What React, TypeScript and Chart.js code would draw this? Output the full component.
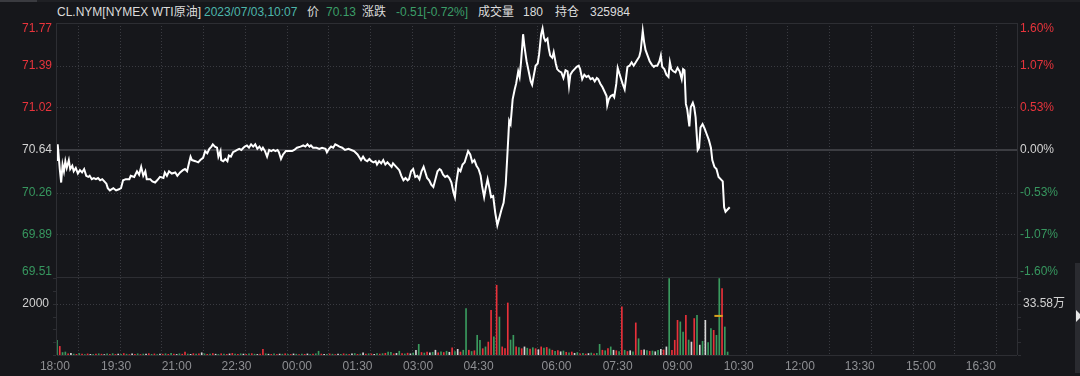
import React, { useEffect, useRef } from 'react';
import { Chart, registerables } from 'chart.js';

Chart.register(...registerables);

// ---------- data ----------
const PREV_CLOSE = 70.64;
const PRICE_TICKS = [71.77, 71.39, 71.02, 70.64, 70.26, 69.89, 69.51];
const PCT_TICKS = ['1.60%', '1.07%', '0.53%', '0.00%', '-0.53%', '-1.07%', '-1.60%'];
const VOL_TICK = 2000;
const VOL_TICK_LABEL = '2000';
const VOL_TOTAL_LABEL = '33.58万';
const VOL_MINOR_TICKS = [0, 500, 1000, 1500, 2000, 2500, 3000];

const TIME_LABELS = ['18:00', '19:30', '21:00', '22:30', '00:00', '01:30', '03:00', '04:30', '06:00', '07:30', '09:00', '10:30', '12:00', '13:30', '15:00', '16:30'];
const TIME_LABEL_MINUTES = [-3, 85, 172, 258, 345, 432, 519, 606, 718, 806, 892, 980, 1068, 1154, 1242, 1328];
const GRID_MINUTES = [30, 90, 150, 210, 270, 330, 390, 450, 510, 570, 630, 690, 750, 810, 870, 930, 990, 1050, 1110, 1170, 1230, 1290, 1350];
const SESSION_MINUTES = 1380;

const HEADER = [
  { text: 'CL.NYM[NYMEX WTI原油]', color: '#dcdcdc', left: 57 },
  { text: '2023/07/03,10:07', color: '#4cb6ab', left: 204 },
  { text: '价', color: '#dcdcdc', left: 307 },
  { text: '70.13', color: '#3b9e68', left: 326 },
  { text: '涨跌', color: '#dcdcdc', left: 362 },
  { text: '-0.51[-0.72%]', color: '#3b9e68', left: 396 },
  { text: '成交量', color: '#dcdcdc', left: 478 },
  { text: '180', color: '#dcdcdc', left: 523 },
  { text: '持仓', color: '#dcdcdc', left: 555 },
  { text: '325984', color: '#dcdcdc', left: 590 },
];

// [minutes since 18:00, price]
const PRICE_POINTS: [number, number][] = [
  [0, 70.55], [1, 70.69], [4, 70.47], [6, 70.35], [8, 70.51], [10, 70.45], [12, 70.54], [14, 70.48], [17, 70.55], [19, 70.47],
  [22, 70.50], [24, 70.45], [27, 70.48], [30, 70.43], [33, 70.46], [36, 70.44], [39, 70.47], [42, 70.41], [45, 70.40], [47, 70.41],
  [50, 70.38], [53, 70.39], [56, 70.38], [59, 70.39], [62, 70.37], [65, 70.38], [68, 70.36], [71, 70.34], [73, 70.30], [76, 70.28],
  [81, 70.30], [85, 70.28], [89, 70.29], [92, 70.30], [95, 70.37], [99, 70.38], [104, 70.38], [106, 70.41], [111, 70.40], [115, 70.45],
  [118, 70.42], [121, 70.49], [124, 70.41], [127, 70.45], [129, 70.38], [134, 70.38], [137, 70.36], [141, 70.35], [144, 70.37], [148, 70.40],
  [153, 70.39], [155, 70.44], [158, 70.41], [161, 70.45], [165, 70.43], [170, 70.44], [173, 70.41], [177, 70.44], [181, 70.46], [184, 70.47],
  [187, 70.45], [190, 70.53], [192, 70.58], [194, 70.55], [199, 70.54], [203, 70.53], [206, 70.55], [210, 70.57], [213, 70.63], [216, 70.61],
  [219, 70.65], [222, 70.67], [224, 70.69], [227, 70.67], [230, 70.66], [232, 70.58], [235, 70.63], [236, 70.55], [239, 70.54], [242, 70.56],
  [245, 70.54], [247, 70.59], [250, 70.58], [253, 70.62], [256, 70.63], [259, 70.64], [262, 70.65], [265, 70.64], [268, 70.66], [270, 70.67],
  [273, 70.68], [276, 70.66], [279, 70.69], [282, 70.67], [285, 70.69], [288, 70.65], [291, 70.67], [294, 70.64], [296, 70.66], [299, 70.63],
  [302, 70.58], [305, 70.64], [308, 70.63], [311, 70.64], [314, 70.63], [317, 70.64], [319, 70.62], [322, 70.56], [325, 70.60], [329, 70.63],
  [334, 70.63], [338, 70.63], [341, 70.64], [345, 70.66], [350, 70.67], [354, 70.68], [357, 70.67], [360, 70.69], [363, 70.67], [365, 70.68],
  [368, 70.66], [373, 70.66], [377, 70.65], [381, 70.66], [386, 70.65], [388, 70.62], [391, 70.65], [394, 70.67], [397, 70.66], [400, 70.69],
  [403, 70.68], [406, 70.67], [410, 70.66], [414, 70.64], [419, 70.65], [423, 70.64], [427, 70.63], [432, 70.60], [435, 70.57], [437, 70.55],
  [440, 70.58], [443, 70.55], [446, 70.54], [449, 70.56], [452, 70.54], [455, 70.53], [458, 70.54], [460, 70.51], [463, 70.54], [466, 70.52],
  [469, 70.55], [472, 70.51], [475, 70.53], [478, 70.51], [481, 70.49], [483, 70.52], [486, 70.50], [489, 70.48], [492, 70.46], [495, 70.41],
  [498, 70.37], [501, 70.39], [504, 70.37], [506, 70.38], [509, 70.45], [512, 70.47], [515, 70.40], [518, 70.41], [521, 70.38], [524, 70.45],
  [527, 70.49], [529, 70.45], [532, 70.39], [535, 70.37], [538, 70.33], [541, 70.31], [544, 70.38], [547, 70.45], [550, 70.47], [552, 70.46],
  [555, 70.42], [558, 70.40], [561, 70.41], [564, 70.39], [567, 70.35], [570, 70.26], [572, 70.22], [574, 70.35], [577, 70.47], [580, 70.45],
  [583, 70.51], [586, 70.53], [588, 70.57], [591, 70.63], [594, 70.60], [597, 70.53], [600, 70.55], [603, 70.50], [606, 70.47], [609, 70.41],
  [611, 70.32], [614, 70.22], [616, 70.29], [619, 70.38], [622, 70.29], [624, 70.22], [627, 70.23], [630, 70.08], [633, 69.97], [636, 70.04],
  [639, 70.11], [642, 70.17], [645, 70.33], [647, 70.55], [649, 70.78], [650, 70.90], [652, 70.87], [655, 71.09], [658, 71.18], [660, 71.23],
  [663, 71.34], [665, 71.29], [667, 71.42], [669, 71.58], [670, 71.67], [672, 71.56], [675, 71.43], [678, 71.34], [681, 71.25], [683, 71.22],
  [685, 71.29], [688, 71.39], [691, 71.41], [693, 71.49], [696, 71.67], [698, 71.72], [700, 71.64], [702, 71.61], [705, 71.63], [707, 71.54],
  [709, 71.48], [712, 71.46], [714, 71.51], [717, 71.41], [719, 71.36], [722, 71.34], [725, 71.33], [728, 71.28], [731, 71.35], [734, 71.34],
  [736, 71.21], [738, 71.31], [741, 71.34], [744, 71.36], [747, 71.38], [750, 71.39], [752, 71.36], [755, 71.27], [758, 71.31], [761, 71.29],
  [764, 71.30], [767, 71.27], [770, 71.28], [773, 71.25], [776, 71.28], [778, 71.27], [781, 71.23], [784, 71.20], [787, 71.16], [790, 71.12],
  [791, 71.04], [793, 71.09], [796, 71.12], [799, 71.13], [801, 71.11], [804, 71.23], [806, 71.37], [809, 71.31], [811, 71.27], [813, 71.23],
  [816, 71.18], [818, 71.28], [820, 71.38], [823, 71.39], [826, 71.42], [829, 71.39], [832, 71.42], [834, 71.44], [837, 71.47], [839, 71.52],
  [842, 71.70], [844, 71.60], [846, 71.53], [849, 71.48], [852, 71.43], [855, 71.40], [858, 71.38], [860, 71.39], [863, 71.39], [866, 71.43],
  [868, 71.48], [870, 71.38], [873, 71.36], [876, 71.31], [879, 71.29], [881, 71.42], [883, 71.36], [886, 71.34], [889, 71.33], [892, 71.37],
  [895, 71.34], [898, 71.27], [900, 71.36], [902, 71.35], [904, 71.05], [906, 71.00], [909, 70.85], [911, 71.02], [914, 71.06], [916, 71.02],
  [918, 70.93], [921, 70.64], [923, 70.66], [925, 70.84], [928, 70.87], [931, 70.83], [934, 70.78], [937, 70.73], [940, 70.66], [942, 70.55],
  [945, 70.49], [948, 70.47], [951, 70.40], [954, 70.38], [957, 70.36], [959, 70.13], [961, 70.09], [967, 70.13],
];

// volume per 4-minute bin starting at 18:00
const VOL_BIN_MINUTES = 4;
const VOLUMES = [
  590, 350, 110, 130, 60, 80, 50, 40, 70, 45,
  30, 55, 40, 35, 50, 60, 45, 30, 55, 40,
  65, 35, 50, 40, 70, 45, 30, 55, 40, 60,
  35, 50, 45, 65, 40, 55, 30, 50, 45, 60,
  40, 75, 50, 35, 60, 45, 130, 50, 40, 65,
  45, 55, 100, 60, 40, 50, 70, 45, 35, 60,
  50, 40, 55, 75, 45, 35, 60, 50, 40, 55,
  65, 45, 35, 50, 235, 60, 45, 40, 55, 35,
  50, 45, 60, 40, 35, 55, 45, 30, 50, 40,
  55, 35, 45, 60, 160, 50, 40, 35, 55, 45,
  30, 50, 40, 60, 45, 35, 55, 70, 40, 50,
  100, 45, 60, 55, 40, 70, 50, 65, 80, 130,
  120, 60, 75, 160, 70, 55, 85, 60, 90, 200,
  430, 110, 90, 130, 100, 120, 200, 100, 140, 110,
  160, 120, 290, 150, 235, 130, 200, 1830, 200, 150,
  180, 785, 590, 260, 330, 520, 1765, 720, 2745, 1500,
  330, 260, 2050, 600, 785, 330, 300, 260, 330, 280,
  240, 300, 260, 220, 330, 280, 310, 250, 200, 160,
  190, 140, 170, 120, 100, 130, 80, 110, 60, 80,
  50, 70, 90, 60, 80, 430, 200, 180, 260, 330,
  200, 180, 150, 1895, 200, 150, 180, 140, 1270, 650,
  200, 220, 190, 160, 170, 140, 200, 235, 210, 330,
  3006, 200, 590, 1370, 1310, 915, 1570, 600, 520, 1440,
  1570, 400, 550, 1370, 500, 1045, 980, 785, 3006, 2614,
  1110, 130,
];
// r = up (red), g = down (green), w = flat (white)
const VOL_DIRECTIONS = (
  'grggrwgrgr' + 'grwgrgrwgr' + 'grwgrgrwrg' + 'rgwrgrgwrg' + 'rgrwgrrgwr' +
  'grwgrgrwgr' + 'grwrgrgwrg' + 'rgwrrgwrgr' + 'wgrgrwgrgr' + 'wgrggrwgrg' +
  'rwgrgrwgrg' + 'wrgrwgrgrg' + 'grwgrgrwgw' + 'grgrwgwrgr' + 'gwrgwrggrg' +
  'rggrgrrgrg' + 'rrrggrgrwg' + 'rgrwrgrgrg' + 'rwgrgrwgrg' + 'rwgrggrgrg' +
  'wrgrgrwgrg' + 'rwgrgwgwrw' + 'grrrggrgwr' + 'gwgwggrggr' + 'gg'
).split('');

// short average-volume marker
const VOL_MARKER_MINUTES = [945, 957];
const VOL_MARKER_VALUE = 1530;

// ---------- styles ----------
const BG = '#16171b';
const RED = '#e8343c';
const GREEN = '#37975f';
const WHITE_TXT = '#d2d2d2';
const AXIS_TXT = '#8e8f93';
const GRID = '#3a3b41';
const FRAME = '#2d2e33';
const FONT = '"Liberation Sans", Arial, "Noto Sans CJK SC", sans-serif';
const DIR_COLORS: Record<string, string> = { r: '#e8313a', g: '#3a9a5e', w: '#d6d6d6' };

const framePlugin = {
  id: 'frame',
  beforeDatasetsDraw(chart: any) {
    const { ctx, chartArea: a, scales } = chart;
    const yP = scales.yP;
    const yV = scales.yV;
    const x = scales.x;
    ctx.save();
    const hline = (y: number, color: string, width: number, dash: number[]) => {
      ctx.beginPath();
      ctx.strokeStyle = color;
      ctx.lineWidth = width;
      ctx.setLineDash(dash);
      ctx.moveTo(a.left, y);
      ctx.lineTo(a.right, y);
      ctx.stroke();
    };
    // vertical dotted grid at the half hours
    ctx.beginPath();
    ctx.strokeStyle = GRID;
    ctx.lineWidth = 1;
    ctx.setLineDash([1, 2]);
    GRID_MINUTES.forEach((m) => {
      const px = Math.round(x.getPixelForValue(m)) + 0.5;
      ctx.moveTo(px, a.top);
      ctx.lineTo(px, a.bottom);
    });
    ctx.stroke();
    PRICE_TICKS.forEach((v, i) => {
      const y = Math.round(yP.getPixelForValue(v)) + 0.5;
      if (i === 0 || i === PRICE_TICKS.length - 1) hline(y, FRAME, 1, []);
      else if (v === PREV_CLOSE) hline(y - 0.5, '#3c3d42', 2, []);
      else hline(y, GRID, 1, [1, 2]);
    });
    hline(Math.round(yV.getPixelForValue(VOL_TICK)) + 0.5, GRID, 1, [1, 2]);
    hline(Math.round(yV.getPixelForValue(0)) + 0.5, FRAME, 1, []);
    // side borders
    ctx.setLineDash([]);
    ctx.strokeStyle = FRAME;
    ctx.lineWidth = 1;
    ctx.beginPath();
    ctx.moveTo(a.left - 0.5, a.top);
    ctx.lineTo(a.left - 0.5, a.bottom);
    ctx.moveTo(a.right + 0.5, a.top);
    ctx.lineTo(a.right + 0.5, a.bottom);
    ctx.stroke();
    // volume minor ticks on both edges
    ctx.beginPath();
    VOL_MINOR_TICKS.forEach((v) => {
      const y = Math.round(yV.getPixelForValue(v)) + 0.5;
      ctx.moveTo(a.left - 4, y);
      ctx.lineTo(a.left - 1, y);
      ctx.moveTo(a.right + 1, y);
      ctx.lineTo(a.right + 4, y);
    });
    ctx.stroke();
    ctx.restore();
  },
  afterDraw(chart: any) {
    const { ctx, chartArea: a, scales } = chart;
    const yP = scales.yP;
    const yV = scales.yV;
    const x = scales.x;
    ctx.save();
    ctx.font = `12px ${FONT}`;
    ctx.textBaseline = 'middle';
    PRICE_TICKS.forEach((v, i) => {
      let y = yP.getPixelForValue(v);
      y = Math.max(a.top + 6, Math.min(y, yP.getPixelForValue(PRICE_TICKS[PRICE_TICKS.length - 1]) - 5));
      const c = v > PREV_CLOSE ? RED : v < PREV_CLOSE ? GREEN : WHITE_TXT;
      ctx.fillStyle = c;
      ctx.textAlign = 'right';
      ctx.fillText(v.toFixed(2), a.left - 5, y);
      ctx.textAlign = 'left';
      ctx.fillText(PCT_TICKS[i], a.right + 3, y);
    });
    const yv = yV.getPixelForValue(VOL_TICK);
    ctx.fillStyle = WHITE_TXT;
    ctx.textAlign = 'right';
    ctx.fillText(VOL_TICK_LABEL, a.left - 8, yv);
    ctx.textAlign = 'left';
    ctx.fillText(VOL_TOTAL_LABEL, a.right + 6, yv);
    ctx.fillStyle = AXIS_TXT;
    ctx.textAlign = 'center';
    TIME_LABELS.forEach((t, i) => {
      ctx.fillText(t, x.getPixelForValue(TIME_LABEL_MINUTES[i]), a.bottom + 12);
    });
    ctx.restore();
  },
};

export default function App() {
  const ref = useRef<HTMLCanvasElement | null>(null);

  useEffect(() => {
    if (!ref.current) return;
    const chart = new Chart(ref.current, {
      type: 'bar',
      data: {
        datasets: [
          {
            type: 'line',
            data: PRICE_POINTS.map(([m, p]) => ({ x: m, y: p })),
            yAxisID: 'yP',
            borderColor: '#ffffff',
            borderWidth: 2,
            pointRadius: 0,
            tension: 0,
            order: 0,
          } as any,
          {
            type: 'line',
            data: VOL_MARKER_MINUTES.map((m) => ({ x: m, y: VOL_MARKER_VALUE })),
            yAxisID: 'yV',
            borderColor: '#d9a21f',
            borderWidth: 2,
            pointRadius: 0,
            order: 1,
          } as any,
          {
            type: 'bar',
            data: VOLUMES.map((v, i) => ({ x: i * VOL_BIN_MINUTES, y: v })),
            yAxisID: 'yV',
            backgroundColor: VOL_DIRECTIONS.map((d) => DIR_COLORS[d]),
            categoryPercentage: 1,
            barPercentage: 0.6,
            order: 2,
          } as any,
        ],
      },
      options: {
        animation: false,
        responsive: false,
        maintainAspectRatio: false,
        layout: { padding: { left: 57, right: 63, top: 23, bottom: 0 } },
        plugins: { legend: { display: false }, tooltip: { enabled: false } },
        scales: {
          x: {
            type: 'linear',
            min: 0,
            max: SESSION_MINUTES,
            offset: false,
            position: 'bottom',
            afterFit: (s: any) => {
              s.height = 21;
            },
            ticks: { display: false },
            grid: { display: false, offset: false },
            border: { display: false },
          },
          yP: { type: 'linear', display: false, min: 68.815, max: 71.77 },
          yV: { type: 'linear', display: false, min: 0, max: 13000 },
        },
      } as any,
      plugins: [framePlugin],
    });
    return () => chart.destroy();
  }, []);

  return (
    <div style={{ position: 'fixed', left: 0, top: 0, width: 1080, height: 376, background: BG, overflow: 'hidden' }}>
      <div style={{ position: 'absolute', left: 0, top: 0, width: 1080, height: 2, background: '#1f2024' }} />
      <div style={{ position: 'absolute', left: 0, top: 0, width: 37, height: 2, background: '#3a3b40' }} />
      {HEADER.map((h) => (
        <span
          key={h.text}
          style={{
            position: 'absolute',
            left: h.left,
            top: 4,
            lineHeight: '16px',
            fontSize: 12,
            fontFamily: FONT,
            color: h.color,
            whiteSpace: 'nowrap',
          }}
        >
          {h.text}
        </span>
      ))}
      <canvas ref={ref} width={1080} height={376} style={{ position: 'absolute', left: 0, top: 0, width: 1080, height: 376 }} />
      <div style={{ position: 'absolute', left: 1075, top: 263, width: 5, height: 110, background: '#2a2b30' }} />
      <div
        style={{
          position: 'absolute',
          left: 1076,
          top: 310,
          width: 0,
          height: 0,
          borderTop: '6px solid transparent',
          borderBottom: '6px solid transparent',
          borderLeft: '6px solid #e6e6e6',
        }}
      />
    </div>
  );
}
